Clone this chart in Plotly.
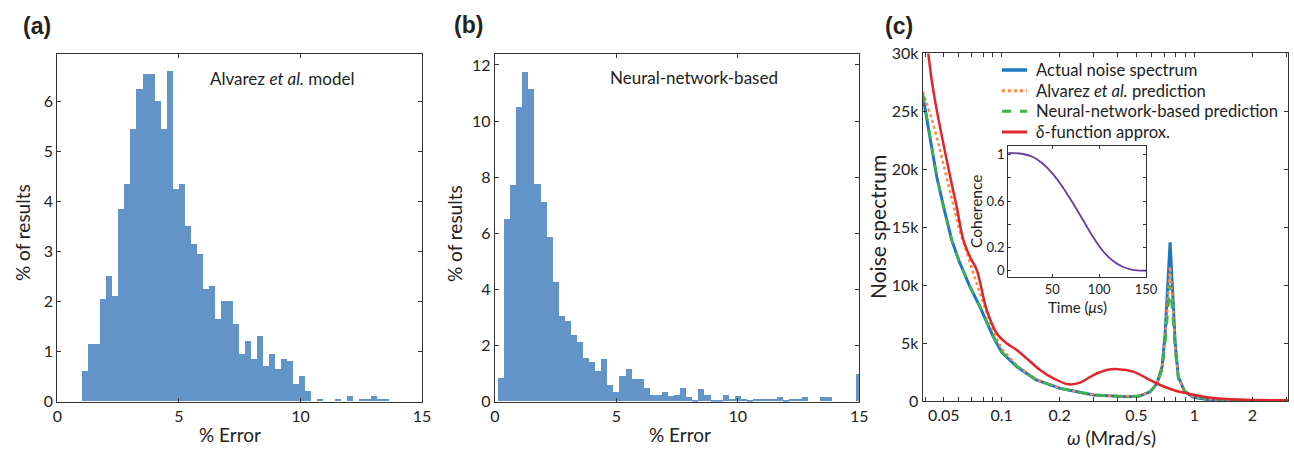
import numpy as np
import plotly.graph_objects as go

# ---------------- data ----------------
# (a) Alvarez et al. model histogram (% of results per % error bin)
a_bin_start = 1.04
a_bin_width = 0.2477
a_heights = [0.6, 1.15, 1.15, 2.05, 2.5, 2.1, 3.85, 4.35, 5.45, 6.25, 6.55, 6.55,
             6.0, 5.45, 6.6, 4.25, 4.35, 3.5, 3.15, 2.95, 2.25, 2.3, 1.65, 2.0,
             2.0, 1.55, 0.95, 1.2, 0.85, 1.3, 0.7, 0.95, 0.65, 0.85, 0.8, 0.35,
             0.5, 0.2, 0, 0.05, 0, 0, 0.05, 0, 0.1, 0, 0.05, 0.05, 0.1, 0.05, 0.05]

# (b) Neural-network-based histogram
b_bin_start = 0.124
b_bin_width = 0.25
b_heights = [0.85, 6.5, 7.7, 10.5, 11.75, 11.15, 7.75, 7.1, 5.85, 4.25, 3.05, 2.85,
             2.35, 2.1, 1.55, 1.4, 1.1, 1.5, 0.6, 0.35, 0.9, 1.15, 0.8, 0.8,
             0.475, 0.226, 0.226, 0.33, 0.19, 0.226, 0.475, 0.155, 0.048, 0.44,
             0.226, 0.048, 0.048, 0.226, 0.083, 0.19, 0.083, 0.048, 0.083, 0.083,
             0.083, 0.083, 0.155, 0.048, 0.083, 0.083, 0.155, 0, 0, 0.155, 0.155,
             0, 0, 0, 0, 0.97]

# (c) noise spectra vs omega (Mrad/s)
omega = [0.039, 0.041, 0.043, 0.046, 0.05, 0.055, 0.06, 0.068, 0.077, 0.09, 0.1,
         0.12, 0.15, 0.2, 0.3, 0.45, 0.52, 0.59, 0.64, 0.68, 0.705, 0.725, 0.748,
         0.772, 0.795, 0.825, 0.89, 0.99, 1.2, 1.8, 3.05]
S_actual = [26300, 24200, 21900, 19350, 16700, 13900, 12100, 9950, 8150, 5600, 4200,
            2950, 1850, 1100, 515, 375, 430, 805, 1525, 2960, 5840, 9300, 13700,
            9300, 5000, 2100, 820, 320, 90, 25, 10]
S_alvarez = [26700, 25600, 24500, 22800, 20400, 17500, 14900, 12100, 9300, 6100, 4500,
             3050, 1900, 1100, 520, 380, 440, 800, 1500, 2800, 5300, 8300, 11600,
             8300, 4600, 2000, 850, 380, 150, 60, 20]
S_nn = [26500, 24300, 22000, 19400, 16700, 13900, 12100, 9950, 8150, 5650, 4250,
        3000, 1850, 1100, 520, 380, 440, 800, 1450, 2700, 4900, 7300, 10000,
        7400, 4300, 1900, 850, 420, 200, 80, 30]
omega_delta = [0.0416, 0.0433, 0.046, 0.0498, 0.054, 0.0584, 0.0632, 0.0684, 0.0742,
               0.0836, 0.0942, 0.106, 0.1197, 0.1348, 0.158, 0.1854, 0.222, 0.255,
               0.299, 0.351, 0.40, 0.482, 0.566, 0.664, 0.778, 0.913, 1.113, 1.472,
               2.19, 3.05]
S_delta = [30000, 27700, 25100, 22200, 19350, 16750, 13900, 12450, 11300, 7850, 5850,
           4980, 4400, 3680, 2680, 1960, 1440, 1580, 2240, 2680, 2750, 2530, 1960,
           1380, 950, 660, 375, 170, 86, 60]

# inset: coherence vs time (us)
t_us = [2.8, 18.7, 29.4, 40.0, 50.7, 61.3, 71.9, 82.6, 93.2, 103.8, 114.5, 125.1,
        135.7, 148.2, 150]
coherence = [1.015, 1.006, 0.98, 0.922, 0.833, 0.718, 0.583, 0.439, 0.295, 0.172,
             0.085, 0.034, 0.008, 0.0, 0.0]

# series labels
series_names = ["Actual noise spectrum", "Alvarez <i>et al.</i> prediction",
                "Neural-network-based prediction", "<i>δ</i>-function approx."]

# tick labels
c_ytick_vals = [0, 5000, 10000, 15000, 20000, 25000, 30000]
c_ytick_text = ["0", "5k", "10k", "15k", "20k", "25k", "30k"]
c_xtick_vals = [0.04, 0.05, 0.06, 0.07, 0.08, 0.09, 0.1, 0.2, 0.3, 0.4, 0.5, 0.6,
                0.7, 0.8, 0.9, 1, 2, 3]
c_xtick_text = ["", "0.05", "", "", "", "", "0.1", "0.2", "", "", "0.5", "", "",
                "", "", "1", "2", ""]

# ---------------- figure ----------------
W, H = 1294, 451
FONT = "Lato"
AX = "#333333"
BAR = "#6394c7"
styles = [dict(color="#1f77c0", width=3, dash="solid"),
          dict(color="#ff8a3d", width=2.5, dash="dot"),
          dict(color="#3cb44b", width=2.5, dash="dash"),
          dict(color="#e0262b", width=2.5, dash="solid")]

def px_x(x0, x1):
    return [x0 / W, x1 / W]

def px_y(top, bottom):
    return [(H - bottom) / H, (H - top) / H]

a_centers = a_bin_start + a_bin_width * (np.arange(len(a_heights)) + 0.5)
b_centers = b_bin_start + b_bin_width * (np.arange(len(b_heights)) + 0.5)

fig = go.Figure()
fig.add_trace(go.Bar(x=a_centers, y=a_heights, width=a_bin_width, marker_color=BAR,
                     marker_line_width=0, xaxis="x", yaxis="y", showlegend=False))
fig.add_trace(go.Bar(x=b_centers, y=b_heights, width=b_bin_width, marker_color=BAR,
                     marker_line_width=0, xaxis="x2", yaxis="y2", showlegend=False))

curves = [(omega, S_actual, "linear"), (omega, S_alvarez, "linear"),
          (omega, S_nn, "linear"), (omega_delta, S_delta, "spline")]
for (xs, ys, shape), name, st in zip(curves, series_names, styles):
    fig.add_trace(go.Scatter(x=xs, y=ys, mode="lines", name=name, line_shape=shape,
                             line=st, xaxis="x3", yaxis="y3", showlegend=False))
fig.add_trace(go.Scatter(x=t_us, y=coherence, mode="lines", line_shape="spline",
                         line=dict(color="#6b3aa6", width=1.8), xaxis="x4", yaxis="y4",
                         showlegend=False))

common = dict(showline=True, linecolor=AX, linewidth=1.3, mirror="ticks",
              ticks="inside", ticklen=4, tickcolor=AX, tickwidth=1.3, automargin=False,
              showgrid=False, zeroline=False, tickfont=dict(size=16, color="#222"))

fig.update_layout(
    width=W, height=H, margin=dict(l=0, r=0, t=0, b=0, autoexpand=False),
    plot_bgcolor="white", paper_bgcolor="white",
    font=dict(family=FONT, color="#222"),
    bargap=0, showlegend=False,
    xaxis=dict(domain=px_x(57.3, 422), range=[0, 15], tickvals=[0, 5, 10, 15],
               anchor="y", **common),
    yaxis=dict(domain=px_y(54.3, 401.7), range=[0, 6.94], tickvals=list(range(7)),
               anchor="x", **common),
    xaxis2=dict(domain=px_x(495, 859.3), range=[0, 15], tickvals=[0, 5, 10, 15],
                anchor="y2", **common),
    yaxis2=dict(domain=px_y(54.3, 401.7), range=[0, 12.38],
                tickvals=[0, 2, 4, 6, 8, 10, 12], anchor="x2", **common),
    xaxis3=dict(domain=px_x(922.7, 1287.7), type="log",
                range=[np.log10(0.0389), np.log10(3.05)], tickvals=c_xtick_vals,
                ticktext=c_xtick_text, anchor="y3", **common),
    yaxis3=dict(domain=px_y(53.3, 401), range=[0, 30000], tickvals=c_ytick_vals,
                ticktext=c_ytick_text, anchor="x3", **common),
)
inset_ax = dict(common)
inset_ax.update(ticklen=3, tickfont=dict(size=13, color="#222"))
fig.update_layout(
    xaxis4=dict(domain=px_x(1008.3, 1146), range=[3, 150], tickvals=[50, 100, 150],
                anchor="y4", **inset_ax),
    yaxis4=dict(domain=px_y(146, 277.3), range=[-0.057, 1.075],
                tickvals=[0, 0.2, 0.4, 0.6, 0.8, 1], ticktext=["0", "0.2", "", "0.6", "", "1"],
                anchor="x4", **inset_ax),
)

ann = []
def add_text(x, y, text, size, rot=0, xanchor="center", yanchor="middle", family=FONT):
    ann.append(dict(x=x / W, y=(H - y) / H, xref="paper", yref="paper", text=text,
                    showarrow=False, textangle=rot, xanchor=xanchor, yanchor=yanchor,
                    font=dict(size=size, family=family, color="#222")))

bold = "Liberation Sans"
add_text(37, 26, "<b>(a)</b>", 23, family=bold)
add_text(468, 25, "<b>(b)</b>", 23, family=bold)
add_text(899, 26, "<b>(c)</b>", 23, family=bold)
add_text(208, 78, "Alvarez <i>et al.</i> model", 17, xanchor="left")
add_text(608, 77, "Neural-network-based", 17, xanchor="left")
add_text(22, 233, "% of results", 19, rot=-90)
add_text(455, 234, "% of results", 19, rot=-90)
add_text(230, 434, "% Error", 19)
add_text(680, 434, "% Error", 19)
add_text(877, 227, "Noise spectrum", 21, rot=-90)
add_text(1111, 437, "<i>ω</i> (Mrad/s)", 19)
add_text(1077, 307, "Time (<i>μ</i>s)", 15)
add_text(976, 212, "Coherence", 15.5, rot=-90)

# manual legend (compact row spacing like the original)
shapes = []
leg_rows = [70, 90.7, 111.3, 132]
for name, st, yy in zip(series_names, styles, leg_rows):
    add_text(1034, yy, name, 16.6, xanchor="left")
    shapes.append(dict(type="line", xref="paper", yref="paper",
                       x0=1002 / W, x1=1027 / W, y0=(H - yy) / H, y1=(H - yy) / H,
                       line=dict(color=st["color"], width=st["width"] + 0.5,
                                 dash=st["dash"])))
fig.update_layout(annotations=ann, shapes=shapes)

fig.write_html("out.html")
